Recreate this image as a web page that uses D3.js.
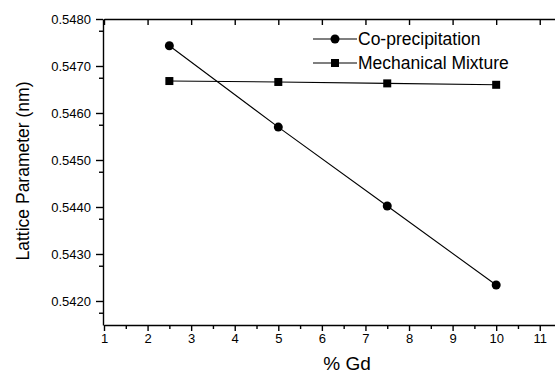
<!DOCTYPE html>
<html lang="en">
<head>
    <meta charset="UTF-8">
    <title>Lattice Parameter vs % Gd</title>
    <style>
        body { margin: 0; background: #fff; }
        svg { display: block; font-family: "Liberation Sans", Arial, sans-serif; }
        .axis path, .axis line { stroke: #000; stroke-width: 1.4; }
    </style>
</head>
<body>
    <svg id="chart"></svg>

    <script src="https://d3js.org/d3.v7.min.js"></script>
    <script>
        // Data
        var gdPercent = [2.5, 5, 7.5, 10];
        var coPrecipitation = [0.54743, 0.54570, 0.54402, 0.54234];
        var mechanicalMixture = [0.54668, 0.54666, 0.54663, 0.54660];
        var seriesNames = ["Co-precipitation", "Mechanical Mixture"];
        var xTicks = [1, 2, 3, 4, 5, 6, 7, 8, 9, 10, 11];
        var yTicks = [0.5420, 0.5430, 0.5440, 0.5450, 0.5460, 0.5470, 0.5480];

        // Constants
        var W = 555, H = 373;
        var plotLeft = 103, plotTop = 19, plotRight = 555, plotBottom = 325;
        var fontFam = "Liberation Sans, Arial, sans-serif";

        var svg = d3.select("#chart")
            .attr("width", W)
            .attr("height", H);

        var x = d3.scaleLinear()
            .domain([1, 11.35])
            .range([104, plotRight]);

        var y = d3.scaleLinear()
            .domain([0.541489, 0.5480])
            .range([plotBottom, plotTop]);

        // minor ticks
        var xMinor = d3.range(1.5, 11.5, 1);
        var yMinor = d3.range(0.54175, 0.5480, 0.001);

        function styleText(g) {
            g.attr("font-size", 13).attr("font-family", fontFam);
            g.selectAll("text")
                .style("font-size", "13px")
                .attr("fill", "#000");
        }

        // Bottom axis
        svg.append("g")
            .attr("class", "axis")
            .attr("transform", "translate(0," + plotBottom + ")")
            .call(d3.axisBottom(x).tickValues(xMinor).tickSize(4).tickFormat(""))
            .call(g => g.select(".domain").remove());

        svg.append("g")
            .attr("class", "axis")
            .attr("transform", "translate(0," + plotBottom + ")")
            .call(d3.axisBottom(x).tickValues(xTicks).tickSize(6).tickSizeOuter(0).tickPadding(3).tickFormat(d3.format("d")))
            .call(styleText);

        // Top axis (ticks inward)
        svg.append("g")
            .attr("class", "axis")
            .attr("transform", "translate(0," + plotTop + ")")
            .call(d3.axisTop(x).tickValues(xTicks).tickSize(-6).tickSizeOuter(0).tickFormat(""));

        // Left axis
        svg.append("g")
            .attr("class", "axis")
            .attr("transform", "translate(" + plotLeft + ",0)")
            .call(d3.axisLeft(y).tickValues(yMinor).tickSize(4).tickFormat(""))
            .call(g => g.select(".domain").remove());

        svg.append("g")
            .attr("class", "axis")
            .attr("transform", "translate(" + plotLeft + ",0)")
            .call(d3.axisLeft(y).tickValues(yTicks).tickSize(7).tickSizeOuter(0).tickPadding(5).tickFormat(d3.format(".4f")))
            .call(styleText);

        // Lines
        var line = d3.line()
            .x(d => x(d[0]))
            .y(d => y(d[1]));

        var coPts = gdPercent.map((g, i) => [g, coPrecipitation[i]]);
        var mmPts = gdPercent.map((g, i) => [g, mechanicalMixture[i]]);

        svg.append("path")
            .datum(coPts)
            .attr("d", line)
            .attr("fill", "none")
            .attr("stroke", "#000")
            .attr("stroke-width", 1.1);

        svg.append("path")
            .datum(mmPts)
            .attr("d", line)
            .attr("fill", "none")
            .attr("stroke", "#000")
            .attr("stroke-width", 1.1);

        svg.selectAll(".co-pt")
            .data(coPts)
            .enter()
            .append("circle")
            .attr("cx", d => x(d[0]))
            .attr("cy", d => y(d[1]))
            .attr("r", 4.5)
            .attr("fill", "#000");

        svg.selectAll(".mm-pt")
            .data(mmPts)
            .enter()
            .append("rect")
            .attr("x", d => x(d[0]) - 4)
            .attr("y", d => y(d[1]) - 4)
            .attr("width", 8)
            .attr("height", 8)
            .attr("fill", "#000");

        // Legend
        var legend = svg.append("g").attr("transform", "translate(313,39)");
        seriesNames.forEach((name, i) => {
            var g = legend.append("g").attr("transform", "translate(0," + (i * 24) + ")");
            g.append("line")
                .attr("x1", 0).attr("x2", 44)
                .attr("y1", 0).attr("y2", 0)
                .attr("stroke", "#000").attr("stroke-width", 1.1);
            if (i === 0) {
                g.append("circle").attr("cx", 22).attr("cy", 0).attr("r", 4.5).attr("fill", "#000");
            } else {
                g.append("rect").attr("x", 18).attr("y", -4).attr("width", 8).attr("height", 8).attr("fill", "#000");
            }
            g.append("text")
                .attr("x", 45)
                .attr("y", 6)
                .style("font-size", "17.5px")
                .text(name);
        });

        // Axis labels
        svg.append("text")
            .attr("text-anchor", "middle")
            .attr("x", 347)
            .attr("y", 370)
            .style("font-size", "19px")
            .text("% Gd");

        svg.append("text")
            .attr("text-anchor", "middle")
            .attr("transform", "translate(29," + 171 + ") rotate(-90)")
            .style("font-size", "17.5px")
            .text("Lattice Parameter (nm)");
    </script>
</body>
</html>
